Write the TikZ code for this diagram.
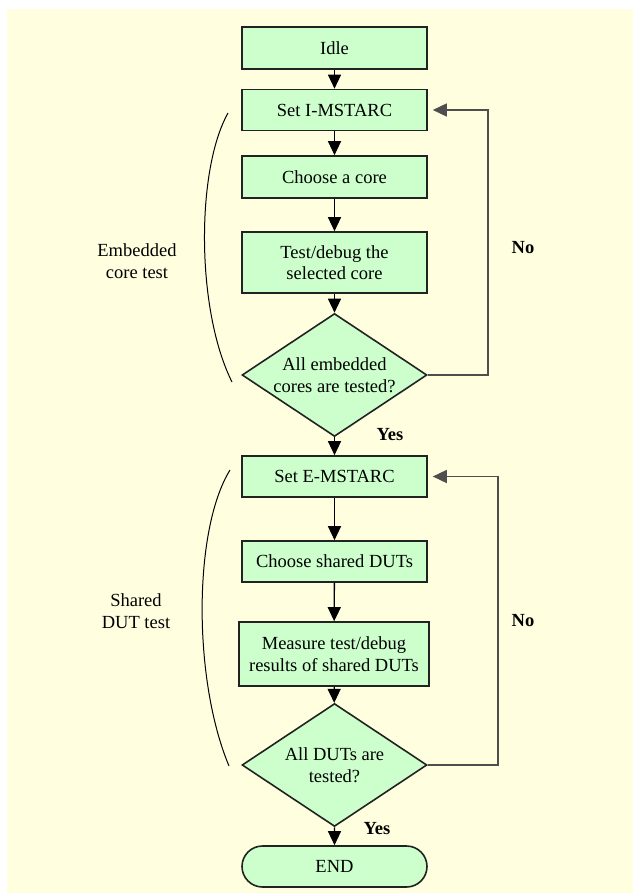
\documentclass[tikz,border=0pt]{standalone}
\usepackage{fontspec}
\setmainfont{Liberation Serif}
\usetikzlibrary{shapes.geometric,shapes.misc,arrows.meta}
\definecolor{bgyellow}{HTML}{FFFFE0}
\definecolor{boxgreen}{HTML}{CCFFCC}
\definecolor{edgegray}{HTML}{222222}
\begin{document}
\begin{tikzpicture}[x=1pt,y=-1pt,
  every node/.style={font=\fontsize{18.5}{21.5}\selectfont, text=black},
  procbox/.style={draw=edgegray, line width=1.6pt, fill=boxgreen, minimum width=185pt, inner sep=0pt, align=center},
  decbox/.style={draw=edgegray, line width=1.6pt, fill=boxgreen, diamond, minimum width=185pt, minimum height=123pt, inner sep=0pt},
  endbox/.style={draw=edgegray, line width=1.6pt, fill=boxgreen, rounded rectangle, minimum width=185pt, minimum height=41pt, inner sep=0pt},
  flow/.style={draw=black, line width=1.3pt, -{Triangle[length=14pt,width=13pt]}},
  loopline/.style={draw=edgegray!80, line width=1.6pt, -{Triangle[length=14pt,width=13pt]}, shorten >=5pt},
  lbl/.style={font=\fontsize{18.5}{21.5}\selectfont\bfseries},
  bracearc/.style={draw=black, line width=1pt}
]
\useasboundingbox (0,0) rectangle (633,893);
\fill[bgyellow] (7,9) rectangle (633,893);

\node[procbox, minimum height=42pt] (idle) at (334.5,48) {Idle};
\node[procbox, minimum height=41pt] (seti) at (334.5,110) {Set I-MSTARC};
\node[procbox, minimum height=42pt] (choose) at (334.5,177) {Choose a core};
\node[procbox, minimum height=61pt] (test) at (334.5,262.5) {Test/debug the\\selected core};
\node[decbox] (d1) at (334.5,375) {};
\node[align=center] (d1t) at (d1.center) {All embedded\\cores are tested?};
\node[procbox, minimum height=41pt] (sete) at (334.5,476.5) {Set E-MSTARC};
\node[procbox, minimum height=41pt] (choosed) at (334.5,561.5) {Choose shared DUTs};
\node[procbox, minimum height=64pt, minimum width=190pt] (measure) at (334,654) {Measure test/debug\\results of shared DUTs};
\node[decbox] (d2) at (334.5,765) {};
\node[align=center] (d2t) at (d2.center) {All DUTs are\\tested?};
\node[endbox] (endn) at (334.5,866.5) {END};

\draw[flow] (idle) -- (seti);
\draw[flow] (seti) -- (choose);
\draw[flow] (choose) -- (test);
\draw[flow] (test) -- (d1);
\draw[flow] (d1) -- (sete);
\draw[flow] (sete) -- (choosed);
\draw[flow] (choosed) -- (measure);
\draw[flow] (measure) -- (d2);
\draw[flow] (d2) -- (endn);

\coordinate (c1) at (488,375);
\coordinate (c2) at (498,765);
\draw[loopline] (d1.east) -- (c1) |- (seti.east);
\draw[loopline] (d2.east) -- (c2) |- (sete.east);

\node[lbl] (no1) at (523,248) {No};
\node[lbl] (yes1) at (390,435) {Yes};
\node[lbl] (no2) at (523,621) {No};
\node[lbl] (yes2) at (377,829) {Yes};

\draw[bracearc] (228,113) .. controls (196,170) and (196,310) .. (232,382);
\draw[bracearc] (230,470) .. controls (193,530) and (193,680) .. (229,766);

\node[align=center] (lab1) at (137,261) {Embedded\\core test};
\node[align=center] (lab2) at (136,611) {Shared\\DUT test};
\end{tikzpicture}
\end{document}
